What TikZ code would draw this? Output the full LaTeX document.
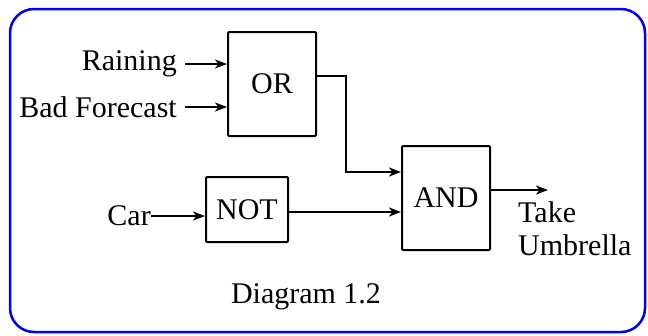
\documentclass[tikz,border=0pt]{standalone}
\usepackage{fontspec}
\setmainfont{Liberation Serif}
\usetikzlibrary{arrows.meta}
\begin{document}
\begin{tikzpicture}[x=1pt,y=-1pt,
  every node/.style={font=\rmfamily\fontsize{30}{33}\selectfont},
  gate/.style={draw,line width=2pt,inner sep=0pt,rounded corners=1pt},
  lbl/.style={inner sep=0pt},
  arr/.style={line width=2pt,-{Stealth[length=12pt,width=9pt,inset=3.5pt]}},
  wire/.style={line width=2pt}]
\useasboundingbox (0,0) rectangle (648,335);
\draw[blue,line width=2.5pt,rounded corners=24pt] (10,9) rectangle (645,332);
\node[gate,minimum width=88pt,minimum height=104pt] (or) at (272,84) {OR};
\node[gate,minimum width=88pt,minimum height=104pt] (and) at (446,198) {AND};
\node[gate,minimum width=82pt,minimum height=65pt] (not) at (247,209.5) {NOT};
\node[lbl,anchor=east] (rain) at (177,64) {Raining};
\node[lbl,anchor=east] (bad) at (177,107) {Bad Forecast};
\node[lbl,anchor=east] (car) at (151,216) {Car};
\node[lbl,anchor=west,align=left] (take) at (518,229) {Take\\Umbrella};
\node[lbl] (cap) at (306,297) {Diagram 1.2};
\coordinate (rainout) at (185,64);
\coordinate (badout) at (185,107);
\coordinate (andout) at (548,190);
\draw[arr] (rainout) -- (or.west |- rainout);
\draw[arr] (badout) -- (or.west |- badout);
\draw[arr] (car.east) -- (not.west |- car.east);
\draw[arr] (or.east |- 0,76) -- (346,76) |- (and.west |- 0,172);
\draw[arr] (not.east |- 0,212) -- (and.west |- 0,212);
\draw[arr] (and.east |- andout) -- (andout);
\end{tikzpicture}
\end{document}
